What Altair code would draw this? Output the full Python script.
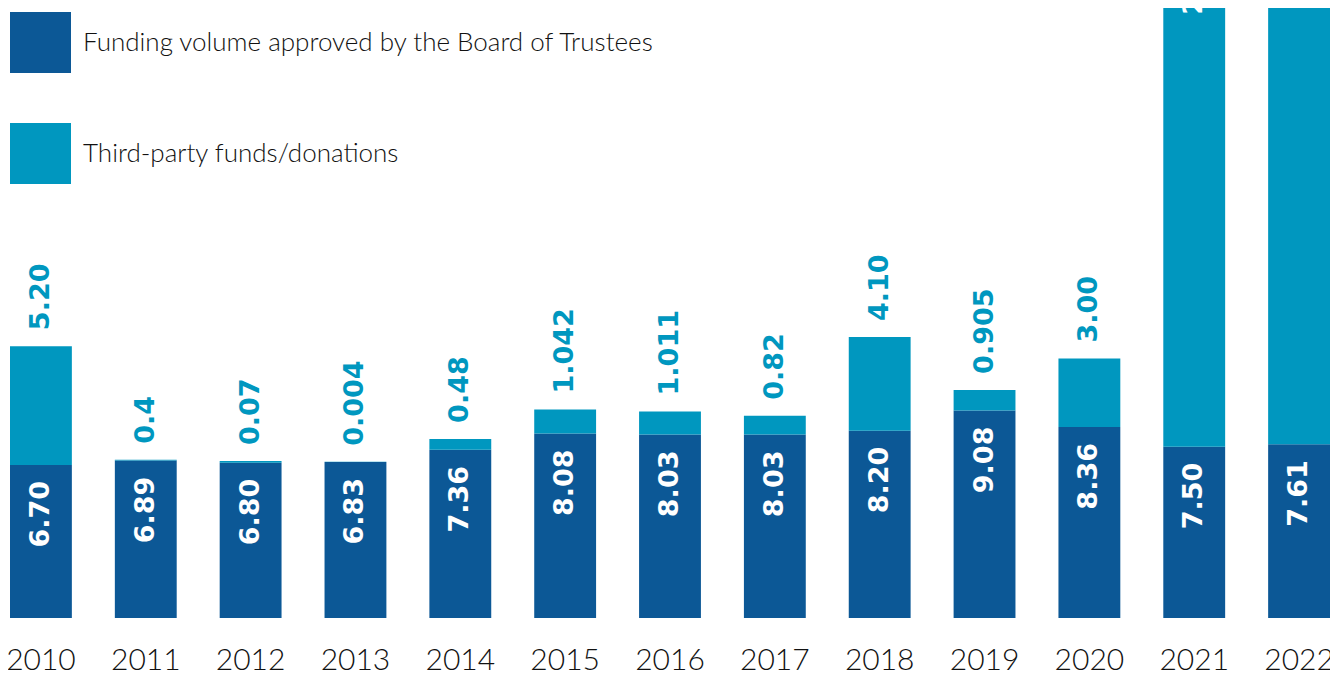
import altair as alt
import pandas as pd

years = ["2010", "2011", "2012", "2013", "2014", "2015", "2016",
         "2017", "2018", "2019", "2020", "2021", "2022"]
board = [6.70, 6.89, 6.80, 6.83, 7.36, 8.08, 8.03, 8.03, 8.20, 9.08, 8.36, 7.50, 7.61]
# bar heights as drawn in the picture (the 2011 segment is only a hairline)
third = [5.20, 0.04, 0.07, 0.004, 0.48, 1.042, 1.011, 0.82, 4.10, 0.905, 3.00, 23.34, 25.80]
board_labels = ["6.70", "6.89", "6.80", "6.83", "7.36", "8.08", "8.03",
                "8.03", "8.20", "9.08", "8.36", "7.50", "7.61"]
third_labels = ["5.20", "0.4", "0.07", "0.004", "0.48", "1.042", "1.011",
                "0.82", "4.10", "0.905", "3.00", "23.34", "25.80"]
series = ["Funding volume approved by the Board of Trustees",
          "Third-party funds/donations"]

DARK = "#0c5896"
LIGHT = "#0097bf"
Y_MAX = 26.7

rows = []
for y, b, t in zip(years, board, third):
    rows.append({"year": y, "series": series[0], "value": b, "order": 0})
    rows.append({"year": y, "series": series[1], "value": t, "order": 1})
bars_df = pd.DataFrame(rows)

lab_rows = []
for y, b, t, bl, tl in zip(years, board, third, board_labels, third_labels):
    lab_rows.append({"year": y, "pos": b, "text": bl, "kind": "dark"})
    kind = "inlight" if b + t > Y_MAX * 0.8 else "above"
    lab_rows.append({"year": y, "pos": b + t, "text": tl, "kind": kind})
lab_df = pd.DataFrame(lab_rows)

x_enc = alt.X(
    "year:N",
    sort=years,
    scale=alt.Scale(paddingInner=0.41, paddingOuter=0),
    axis=alt.Axis(
        title=None, labelAngle=0, domain=False, ticks=False, grid=False,
        labelFont="Lato", labelFontWeight=300, labelFontSize=30,
        labelColor="#111111", labelPadding=27,
    ),
)
y_scale = alt.Scale(domain=[0, Y_MAX], nice=False, zero=True)

bars = alt.Chart(bars_df).mark_bar(clip=True).encode(
    x=x_enc,
    y=alt.Y("value:Q", stack="zero", scale=y_scale, axis=None),
    color=alt.Color(
        "series:N",
        scale=alt.Scale(domain=series, range=[DARK, LIGHT]),
        legend=alt.Legend(
            title=None, orient="none", legendX=0, legendY=4,
            direction="vertical", symbolType="square", symbolSize=3721,
            symbolStrokeWidth=0, symbolOpacity=1, labelFont="Lato",
            labelFontWeight=300, labelFontSize=26, labelColor="#111111",
            rowPadding=50, labelOffset=12, labelLimit=900, padding=0,
        ),
    ),
    order=alt.Order("order:Q"),
)

base_text = alt.Chart(lab_df).encode(
    x=alt.X("year:N", sort=years),
    y=alt.Y("pos:Q", scale=y_scale),
    text="text:N",
)

txt_style = dict(angle=270, baseline="middle", font="DejaVu Sans",
                 fontWeight="bold", fontSize=27)

dark_txt = base_text.transform_filter(alt.datum.kind == "dark").mark_text(
    align="right", yOffset=16, color="white", **txt_style
)
above_txt = base_text.transform_filter(alt.datum.kind == "above").mark_text(
    align="left", yOffset=-16, color=LIGHT, **txt_style
)
inlight_txt = base_text.transform_filter(alt.datum.kind == "inlight").mark_text(
    align="right", yOffset=16, color="white", **txt_style
)

chart = alt.layer(bars, dark_txt, above_txt, inlight_txt).properties(
    width=1320, height=610,
    autosize=alt.AutoSizeParams(type="none"),
    padding={"left": 2, "top": 0, "right": 0, "bottom": 58},
    background="white",
).configure_view(stroke=None)

chart.save("out.html", embed_options={"renderer": "svg", "actions": False})
